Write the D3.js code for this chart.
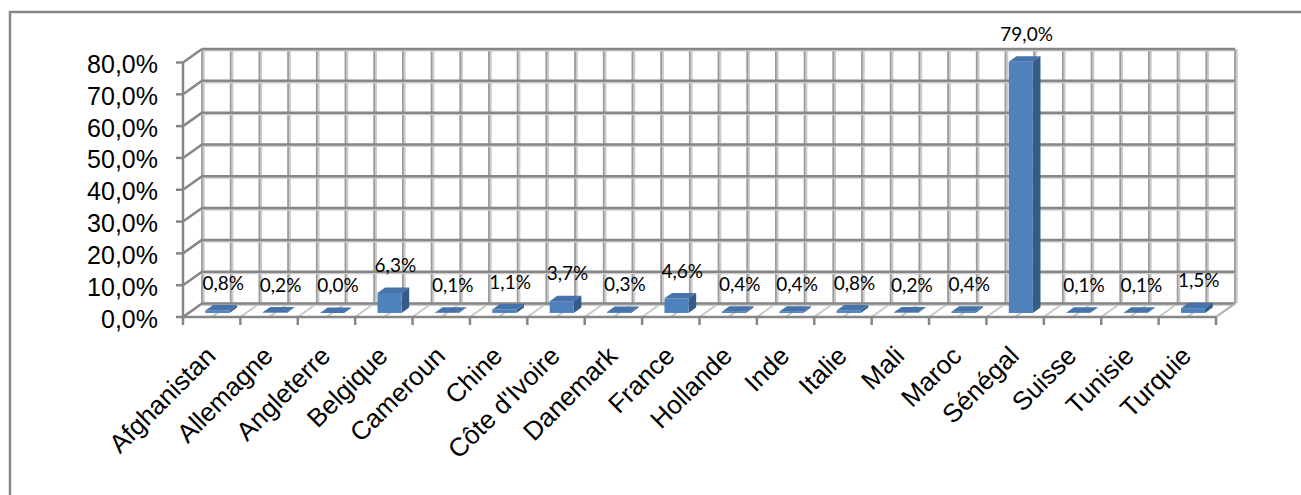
<!DOCTYPE html>
<html>
<head>
<meta charset="utf-8">
<script src="https://cdn.jsdelivr.net/npm/d3@7"></script>
<style>
  html, body { margin: 0; padding: 0; background: #fff; }
  svg { display: block; }
</style>
</head>
<body>
<svg id="chart" width="1301" height="495"></svg>
<script>
// ---- data ----
const categories = ["Afghanistan","Allemagne","Angleterre","Belgique","Cameroun","Chine","Côte d'Ivoire","Danemark","France","Hollande","Inde","Italie","Mali","Maroc","Sénégal","Suisse","Tunisie","Turquie"];
const values = [0.8, 0.2, 0.0, 6.3, 0.1, 1.1, 3.7, 0.3, 4.6, 0.4, 0.4, 0.8, 0.2, 0.4, 79.0, 0.1, 0.1, 1.5];
const yTicks = [0, 10, 20, 30, 40, 50, 60, 70, 80];

(function () {
// ---- layout ----
const svg = d3.select("#chart");
const fmt = v => v.toFixed(1).replace(".", ",") + "%";

const pL = 183, pR = 1216, pB = 317, pT = 62.5;
const DX = 19, DY = -13.5;         // depth projection of the full floor depth
const x = d3.scaleBand().domain(categories).range([pL, pR]).padding(0);
const y = d3.scaleLinear().domain([0, 80]).range([pB, pT]);
const bw = x.bandwidth();
const P = (px, v, d) => [px + d * DX, y(v) + d * DY];   // d in [0,1] depth
const pts = arr => arr.map(p => p.join(",")).join(" ");

// outer frame
svg.append("rect").attr("x", 10).attr("y", 12).attr("width", 1300).attr("height", 500)
  .attr("fill", "#fff").attr("stroke", "#878787").attr("stroke-width", 2.5);

const g = svg.append("g");

// back wall
const bl = P(pL, 0, 1), br = P(pR, 0, 1), tl = P(pL, 80, 1), tr = P(pR, 80, 1);
g.append("polygon").attr("points", pts([bl, br, tr, tl])).attr("fill", "#fff");

// half-category positions
const halfPos = [];
categories.forEach(c => { halfPos.push(x(c)); halfPos.push(x(c) + bw / 2); });
halfPos.push(pR);

// floor gridlines
halfPos.forEach(px => {
  const a = P(px, 0, 0), b = P(px, 0, 1);
  g.append("line").attr("x1", a[0]).attr("y1", a[1]).attr("x2", b[0]).attr("y2", b[1])
    .attr("stroke", "#c8c8c8").attr("stroke-width", 2);
});
g.append("line").attr("x1", bl[0]).attr("y1", bl[1]).attr("x2", br[0]).attr("y2", br[1])
  .attr("stroke", "#d0d0d0").attr("stroke-width", 2);

// back wall vertical gridlines
halfPos.forEach(px => {
  const a = P(px, 0, 1), b = P(px, 80, 1);
  g.append("line").attr("x1", a[0] + 1.8).attr("y1", a[1]).attr("x2", b[0] + 1.8).attr("y2", b[1])
    .attr("stroke", "#cccccc").attr("stroke-width", 2);
  g.append("line").attr("x1", a[0]).attr("y1", a[1]).attr("x2", b[0]).attr("y2", b[1])
    .attr("stroke", "#9a9a9a").attr("stroke-width", 1.8);
});
// back wall horizontal gridlines + side wall gridlines
yTicks.forEach(v => {
  const a = P(pL, v, 1), b = P(pR, v, 1), f = P(pL, v, 0);
  g.append("line").attr("x1", a[0]).attr("y1", a[1] + 1.8).attr("x2", b[0]).attr("y2", b[1] + 1.8)
    .attr("stroke", "#cccccc").attr("stroke-width", 1.6);
  g.append("line").attr("x1", a[0]).attr("y1", a[1]).attr("x2", b[0]).attr("y2", b[1])
    .attr("stroke", "#868686").attr("stroke-width", 2.5);
  g.append("line").attr("x1", f[0]).attr("y1", f[1]).attr("x2", a[0]).attr("y2", a[1])
    .attr("stroke", "#868686").attr("stroke-width", 2.5);
});
{
  const a = P(pR, 0, 0), b = P(pR, 0, 1);
  g.append("line").attr("x1", a[0]).attr("y1", a[1]).attr("x2", b[0]).attr("y2", b[1])
    .attr("stroke", "#b0b0b0").attr("stroke-width", 2);
}

// bars
const d0 = 0.3, d1 = 0.7, wFrac = 0.42;
categories.forEach((c, i) => {
  const v = values[i];
  const cx = x(c) + bw / 2;
  const xl = cx - bw * wFrac / 2, xr = cx + bw * wFrac / 2;
  const fbl = P(xl, 0, d0), fbr = P(xr, 0, d0), ftr = P(xr, v, d0), ftl = P(xl, v, d0);
  const bbr = P(xr, 0, d1), btr = P(xr, v, d1), btl = P(xl, v, d1);
  g.append("polygon").attr("points", pts([fbr, bbr, btr, ftr])).attr("fill", "#365b88");
  g.append("polygon").attr("points", pts([fbl, fbr, ftr, ftl])).attr("fill", "#4f81bd");
  g.append("polygon").attr("points", pts([ftl, ftr, btr, btl])).attr("fill", "#4673a9");
});

// axes
const ax = svg.append("g");
ax.append("line").attr("x1", pL).attr("y1", pT).attr("x2", pL).attr("y2", pB)
  .attr("stroke", "#868686").attr("stroke-width", 2.5);
ax.append("line").attr("x1", pL).attr("y1", pB).attr("x2", pR).attr("y2", pB)
  .attr("stroke", "#868686").attr("stroke-width", 2.5);
yTicks.forEach(v => {
  ax.append("line").attr("x1", pL - 7).attr("x2", pL).attr("y1", y(v)).attr("y2", y(v))
    .attr("stroke", "#868686").attr("stroke-width", 2.5);
  ax.append("text").attr("x", 158).attr("y", y(v)).attr("dy", "0.42em")
    .attr("text-anchor", "end").attr("font-family", "Liberation Sans, Arial, sans-serif")
    .attr("font-size", 25).attr("fill", "#000").text(fmt(v));
});
categories.concat([null]).forEach(c => {
  const px = c === null ? pR : x(c);
  ax.append("line").attr("x1", px).attr("x2", px).attr("y1", pB).attr("y2", pB + 8)
    .attr("stroke", "#868686").attr("stroke-width", 2.5);
});
categories.forEach(c => {
  const cx = x(c) + bw / 2;
  ax.append("text").attr("transform", `translate(${cx - 1},${pB + 34}) rotate(-45)`)
    .attr("text-anchor", "end").attr("dy", "0.35em")
    .attr("font-family", "Liberation Sans, Arial, sans-serif").attr("font-size", 26)
    .attr("fill", "#000").text(c);
});

// data labels
categories.forEach((c, i) => {
  const v = values[i];
  const cx = x(c) + bw / 2;
  const p = P(cx, v, 0.5);
  svg.append("text").attr("x", p[0] + 2).attr("y", p[1] - 18)
    .attr("text-anchor", "middle").attr("font-family", "Lato, Carlito, Calibri, sans-serif")
    .attr("font-size", 19).attr("fill", "#000").text(fmt(v));
});
})();
</script>
</body>
</html>
